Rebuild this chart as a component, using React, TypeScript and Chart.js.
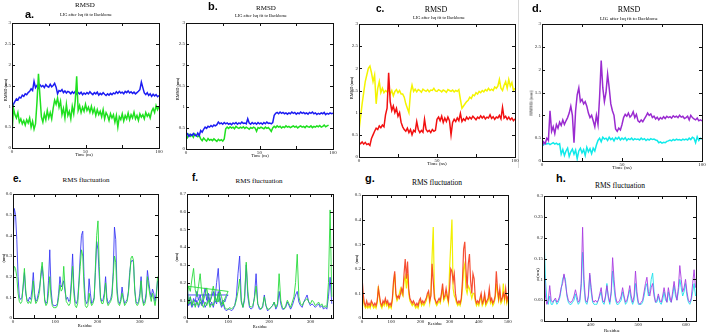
import React, { useEffect, useRef } from "react";
import { Chart, registerables } from "chart.js";

Chart.register(...registerables);

// ---------------- RMSD time series (one sample per ns, 0..100 ns) ----------------
const TIME_STEP_NS = 1;

const rmsdA_blue = [
  0.88, 1.05, 1.12, 1.18, 1.15, 1.22, 1.2, 1.27, 1.24, 1.3,
  1.28, 1.33, 1.36, 1.42, 1.38, 1.6, 1.45, 1.5, 1.44, 1.52,
  1.47, 1.5, 1.45, 1.52, 1.48, 1.46, 1.53, 1.47, 1.5, 1.55,
  1.46, 1.3, 1.38, 1.36, 1.4, 1.33, 1.37, 1.32, 1.36, 1.34,
  1.3, 1.35, 1.31, 1.36, 1.29, 1.33, 1.3, 1.34, 1.28, 1.32,
  1.29, 1.33, 1.3, 1.35, 1.31, 1.28, 1.33, 1.3, 1.34, 1.27,
  1.31, 1.28, 1.33, 1.29, 1.26, 1.3, 1.27, 1.31, 1.28, 1.32,
  1.3, 1.35, 1.31, 1.36, 1.32, 1.34, 1.3, 1.36, 1.33, 1.37,
  1.32, 1.35, 1.31, 1.34, 1.3, 1.33, 1.36, 1.4, 1.58, 1.45,
  1.32, 1.28, 1.33, 1.26, 1.3, 1.24, 1.29, 1.25, 1.28, 1.23,
  1.26,
];
const rmsdA_green = [
  0.35, 0.95, 0.8, 0.72, 0.85, 0.62, 0.7, 0.58, 0.66, 0.55,
  0.68, 0.6, 0.72, 0.5, 0.64, 0.45, 0.58, 1.1, 1.78, 1.25,
  0.75, 0.62, 0.82, 0.68, 0.9, 0.72, 0.85, 0.7, 0.95, 1.15,
  1.05, 1.2, 0.98, 1.12, 0.8, 0.95, 0.72, 1.05, 0.78, 0.88,
  0.7, 1.0, 0.82, 1.12, 1.72, 0.9, 1.02, 0.85, 0.98, 0.88,
  1.05, 0.9, 0.98, 0.86, 1.0, 0.84, 0.95, 0.78, 0.92, 0.8,
  0.88, 0.75, 0.92, 0.7, 0.85, 0.78, 0.66, 0.82, 0.72, 0.8,
  0.62, 0.78, 0.5, 0.75, 0.68, 0.82, 0.65, 0.78, 0.7, 0.84,
  0.68, 0.8, 0.72, 0.86, 0.7, 0.78, 0.66, 0.82, 0.74, 0.8,
  0.7, 0.85, 0.76, 0.82, 0.72, 0.88, 0.95, 0.85, 1.02, 0.92,
  1.0,
];

const rmsdB_blue = [
  0.32, 0.36, 0.3, 0.35, 0.32, 0.37, 0.33, 0.31, 0.38, 0.32,
  0.44, 0.4, 0.47, 0.52, 0.49, 0.54, 0.52, 0.56, 0.53, 0.57,
  0.55, 0.58, 0.64, 0.6, 0.62, 0.59, 0.63, 0.6, 0.62, 0.59,
  0.61, 0.58, 0.62, 0.6, 0.63, 0.59, 0.62, 0.6, 0.64, 0.61,
  0.62, 0.6, 0.72, 0.62, 0.59, 0.63, 0.6, 0.62, 0.59, 0.63,
  0.6, 0.62, 0.59, 0.63, 0.6, 0.64, 0.61, 0.62, 0.6, 0.63,
  0.8, 0.85, 0.87, 0.84, 0.88, 0.85, 0.87, 0.84, 0.86, 0.83,
  0.86, 0.84, 0.88, 0.85, 0.87, 0.83, 0.86, 0.84, 0.88, 0.85,
  0.87, 0.84, 0.86, 0.83, 0.87, 0.85, 0.88, 0.84, 0.86, 0.82,
  0.85, 0.83, 0.86, 0.84, 0.87, 0.82, 0.85, 0.83, 0.86, 0.84,
  0.85,
];
const rmsdB_green = [
  0.32, 0.27, 0.35, 0.3, 0.34, 0.28, 0.36, 0.32, 0.29, 0.33,
  0.24, 0.2, 0.26, 0.22, 0.19, 0.25, 0.21, 0.23, 0.2, 0.24,
  0.21, 0.18, 0.23, 0.2, 0.22, 0.19, 0.24, 0.48, 0.52, 0.49,
  0.53, 0.5, 0.52, 0.48, 0.54, 0.51, 0.49, 0.52, 0.5, 0.53,
  0.49, 0.52, 0.5, 0.47, 0.51, 0.49, 0.52, 0.5, 0.42, 0.51,
  0.49, 0.52, 0.5, 0.48, 0.52, 0.49, 0.51, 0.47, 0.42, 0.5,
  0.54, 0.51, 0.55, 0.52, 0.54, 0.5, 0.53, 0.51, 0.55, 0.52,
  0.54, 0.51, 0.53, 0.55, 0.52, 0.54, 0.5, 0.53, 0.55, 0.52,
  0.54, 0.51, 0.55, 0.53, 0.52, 0.55, 0.51, 0.54, 0.52, 0.55,
  0.53, 0.56, 0.52, 0.54, 0.57, 0.53, 0.55, 0.57,
];

const rmsdC_red = [
  0.32, 0.3, 0.34, 0.29, 0.33, 0.28, 0.3, 0.26, 0.42, 0.5,
  0.58, 0.65, 0.62, 0.7, 0.66, 0.72, 0.68, 0.95, 1.1, 1.9,
  1.25, 1.05, 1.15, 1.0, 1.1, 0.92, 1.0, 0.78, 0.68, 0.62,
  0.58, 0.65, 0.55, 0.62, 0.5, 0.6, 0.57, 0.8, 0.62, 0.55,
  0.6, 0.56, 0.85, 0.62, 0.57, 0.6, 0.55, 0.62, 0.58, 0.6,
  0.85, 0.9, 0.82, 0.92, 0.78, 0.88, 0.8, 0.9, 0.82, 0.5,
  0.78, 0.85, 0.8, 0.88, 0.82, 0.98, 0.8, 0.86, 0.82, 0.9,
  0.85, 0.9, 0.86, 0.92, 0.88, 0.84, 0.9, 0.87, 0.93, 0.88,
  0.92, 0.86, 0.9, 0.88, 0.95, 0.87, 0.91, 0.85, 0.9, 0.88,
  0.94, 0.86, 1.12, 0.88, 0.92, 0.85, 0.9, 0.84, 0.88, 0.82,
  0.86,
];
const rmsdC_yellow = [
  0.6, 0.9, 1.2, 1.45, 1.7, 1.85, 2.0, 2.05, 1.9, 1.7,
  1.85, 1.2, 1.55, 1.7, 1.45, 1.55, 1.45, 1.5, 1.47, 1.52,
  1.42, 1.5, 1.38, 1.48, 1.52, 1.45, 1.5, 1.42, 1.42, 1.35,
  1.2, 1.1, 1.0, 1.45, 1.62, 1.48, 1.53, 1.47, 1.52, 1.5,
  1.46, 1.53, 1.5, 1.48, 1.52, 1.47, 1.51, 1.5, 1.55, 1.49,
  1.48, 1.52, 1.5, 1.47, 1.51, 1.49, 1.46, 1.52, 1.5, 1.48,
  1.51, 1.47, 1.5, 1.48, 1.52, 1.3, 1.1, 1.15, 1.2, 1.25,
  1.28, 1.35, 1.32, 1.4, 1.38, 1.45, 1.42, 1.48, 1.45, 1.5,
  1.47, 1.52, 1.49, 1.55, 1.5, 1.53, 1.5, 1.58, 1.55, 1.6,
  1.75, 1.55, 1.5, 1.62, 1.7, 1.55, 1.75, 1.6, 1.68, 1.5,
  1.55,
];

const rmsdD_purple = [
  0.3, 0.42, 0.38, 0.5, 0.45, 1.1, 0.65, 0.75, 0.6, 0.8,
  0.72, 0.85, 0.78, 0.9, 0.8, 0.88, 0.95, 1.05, 1.2, 1.0,
  0.4, 1.1, 1.45, 1.6, 1.3, 1.35, 1.25, 1.3, 1.2, 1.05,
  0.95, 1.0, 0.88, 0.75, 1.0, 0.8, 1.4, 2.2, 1.6, 1.3,
  1.5, 1.9, 1.6, 1.25, 1.1, 1.0, 0.7, 0.65, 0.72, 0.68,
  0.8, 0.95, 1.02, 0.98, 1.05, 0.96, 1.0, 1.08, 0.95, 1.02,
  0.88, 0.85, 0.9, 0.86, 0.92, 0.98, 1.05, 1.0, 1.03, 0.95,
  0.98, 0.92, 0.96, 0.9, 0.95, 0.92, 0.97, 0.93, 0.98, 0.95,
  0.97, 0.94, 0.99, 0.96, 0.98, 0.95, 1.0, 0.96, 0.98, 0.93,
  0.95, 0.98, 0.9, 1.0, 0.95, 0.92, 0.9, 0.94, 0.88, 0.9,
  0.88,
];
const rmsdD_cyan = [
  0.38, 0.35, 0.4, 0.37, 0.39, 0.36, 0.38, 0.4, 0.37, 0.39, 0.36, 0.38,
  0.15, 0.25, 0.12, 0.22, 0.28, 0.1, 0.2, 0.26, 0.15, 0.24, 0.05,
  0.22, 0.28, 0.18, 0.25, 0.12, 0.3, 0.2, 0.27, 0.16, 0.28, 0.22,
  0.35, 0.45, 0.5, 0.42, 0.52, 0.48,
  0.5, 0.45, 0.52, 0.47, 0.5, 0.44, 0.51, 0.48, 0.52, 0.46,
  0.5, 0.47, 0.51, 0.45, 0.49, 0.47, 0.5, 0.46, 0.49, 0.47,
  0.48, 0.46, 0.5, 0.47, 0.49, 0.45, 0.48, 0.46, 0.49, 0.47,
  0.48, 0.46, 0.45, 0.4, 0.42, 0.39, 0.41, 0.4, 0.43, 0.44,
  0.46, 0.44, 0.47, 0.45, 0.48, 0.46, 0.47, 0.45, 0.48, 0.46,
  0.48, 0.46, 0.5, 0.47, 0.52, 0.5, 0.4, 0.53, 0.45, 0.5, 0.48,
];

// ---------------- RMS fluctuation per residue ----------------
// e: residues 0..342, every 3rd residue
const RMSF_E_START = 0;
const RMSF_E_STEP = 3;
const rmsfE_blue = [
  0.35, 0.53, 0.5, 0.38, 0.2, 0.1, 0.09, 0.1, 0.15, 0.22,
  0.12, 0.09, 0.08, 0.1, 0.09, 0.14, 0.22, 0.12, 0.08, 0.09,
  0.12, 0.15, 0.2, 0.25, 0.18, 0.09, 0.07, 0.08, 0.18, 0.33,
  0.14, 0.07, 0.06, 0.06, 0.06, 0.07, 0.12, 0.2, 0.15, 0.16,
  0.18, 0.13, 0.09, 0.1, 0.08, 0.09, 0.18, 0.31, 0.15, 0.08,
  0.07, 0.09, 0.18, 0.3, 0.4, 0.42, 0.2, 0.09, 0.07, 0.08,
  0.19, 0.12, 0.07, 0.08, 0.1, 0.22, 0.37, 0.33, 0.2, 0.1,
  0.08, 0.09, 0.12, 0.2, 0.1, 0.07, 0.08, 0.09, 0.12, 0.22,
  0.44, 0.38, 0.15, 0.08, 0.07, 0.09, 0.15, 0.1, 0.07, 0.08,
  0.09, 0.13, 0.22, 0.27, 0.28, 0.27, 0.14, 0.08, 0.07, 0.08,
  0.12, 0.2, 0.1, 0.07, 0.08, 0.12, 0.23, 0.18, 0.13, 0.1,
  0.14, 0.12, 0.08, 0.12, 0.18,
];
const rmsfE_green = [
  0.2, 0.25, 0.24, 0.2, 0.12, 0.08, 0.07, 0.08, 0.16, 0.24,
  0.14, 0.08, 0.07, 0.08, 0.07, 0.1, 0.18, 0.1, 0.07, 0.08,
  0.1, 0.13, 0.22, 0.27, 0.2, 0.08, 0.06, 0.07, 0.12, 0.2,
  0.1, 0.06, 0.05, 0.05, 0.05, 0.06, 0.1, 0.16, 0.13, 0.14,
  0.25, 0.15, 0.08, 0.07, 0.06, 0.07, 0.15, 0.25, 0.12, 0.06,
  0.05, 0.07, 0.16, 0.25, 0.33, 0.3, 0.15, 0.06, 0.05, 0.06,
  0.12, 0.08, 0.06, 0.07, 0.09, 0.25, 0.4, 0.47, 0.25, 0.09,
  0.07, 0.07, 0.1, 0.17, 0.08, 0.06, 0.07, 0.08, 0.1, 0.2,
  0.3, 0.27, 0.12, 0.07, 0.06, 0.08, 0.12, 0.09, 0.06, 0.07,
  0.08, 0.12, 0.2, 0.29, 0.3, 0.28, 0.13, 0.07, 0.06, 0.07,
  0.1, 0.18, 0.09, 0.06, 0.07, 0.1, 0.2, 0.15, 0.11, 0.08,
  0.12, 0.09, 0.06, 0.1, 0.2,
];

// f: two chains, both numbered from residue 0, every 4th residue
const RMSF_F_STEP = 4;
const rmsfF_blueChainA = [
  0.2, 0.08, 0.12, 0.07, 0.11, 0.09, 0.15, 0.1, 0.13, 0.08,
  0.12, 0.17, 0.1, 0.14, 0.09, 0.12, 0.15, 0.1, 0.2, 0.28,
  0.12, 0.08, 0.1, 0.09, 0.12, 0.13,
];
const rmsfF_blueChainB = [
  0.13, 0.07, 0.09, 0.06, 0.08, 0.07, 0.1, 0.06, 0.09, 0.07,
  0.1, 0.06, 0.08, 0.12, 0.07, 0.09, 0.06, 0.1, 0.08, 0.15,
  0.09, 0.06, 0.08, 0.05, 0.04, 0.05, 0.05, 0.04, 0.05, 0.07,
  0.12, 0.25, 0.35, 0.1, 0.06, 0.1, 0.3, 0.12, 0.06, 0.05,
  0.06, 0.12, 0.25, 0.08, 0.05, 0.05, 0.06, 0.13, 0.07, 0.04,
  0.05, 0.06, 0.07, 0.09, 0.05, 0.07, 0.15, 0.08, 0.05, 0.05,
  0.06, 0.09, 0.07, 0.05, 0.07, 0.1, 0.13, 0.15, 0.09, 0.07,
  0.06, 0.09, 0.11, 0.13, 0.09, 0.07, 0.08, 0.07, 0.06, 0.07,
  0.08, 0.06, 0.07, 0.05, 0.06, 0.05, 0.12, 0.23, 0.08,
];
const rmsfF_greenChainA = [
  0.12, 0.18, 0.15, 0.22, 0.28, 0.16, 0.12, 0.18, 0.25, 0.14,
  0.1, 0.13, 0.17, 0.11, 0.09, 0.14, 0.18, 0.12, 0.1, 0.09,
  0.15, 0.12, 0.08, 0.11, 0.13, 0.15,
];
const rmsfF_greenChainB = [
  0.18, 0.08, 0.12, 0.07, 0.1, 0.06, 0.09, 0.07, 0.11, 0.08,
  0.06, 0.09, 0.07, 0.1, 0.06, 0.08, 0.07, 0.12, 0.09, 0.14,
  0.1, 0.07, 0.09, 0.06, 0.05, 0.05, 0.06, 0.05, 0.06, 0.07,
  0.1, 0.15, 0.22, 0.09, 0.06, 0.12, 0.315, 0.15, 0.07, 0.06,
  0.07, 0.11, 0.18, 0.08, 0.06, 0.05, 0.07, 0.12, 0.07, 0.05,
  0.05, 0.06, 0.07, 0.09, 0.06, 0.08, 0.25, 0.1, 0.06, 0.05,
  0.07, 0.1, 0.08, 0.06, 0.09, 0.12, 0.2, 0.36, 0.12, 0.08,
  0.07, 0.09, 0.1, 0.11, 0.09, 0.08, 0.1, 0.09, 0.07, 0.08,
  0.09, 0.07, 0.08, 0.06, 0.07, 0.06, 0.2, 0.61, 0.12,
];

// g: residues 0..500, every 4th residue
const RMSF_G_START = 0;
const RMSF_G_STEP = 4;
const rmsfG_red = [
  0.17, 0.1, 0.06, 0.05, 0.07, 0.05, 0.06, 0.05, 0.07, 0.06,
  0.05, 0.06, 0.05, 0.07, 0.12, 0.09, 0.06, 0.05, 0.07, 0.06,
  0.08, 0.06, 0.07, 0.05, 0.06, 0.05, 0.08, 0.15, 0.19, 0.1,
  0.08, 0.09, 0.08, 0.1, 0.12, 0.1, 0.18, 0.24, 0.16, 0.23,
  0.12, 0.08, 0.07, 0.06, 0.07, 0.06, 0.05, 0.06, 0.05, 0.07,
  0.08, 0.06, 0.07, 0.06, 0.07, 0.08, 0.1, 0.11, 0.07, 0.09,
  0.22, 0.15, 0.08, 0.07, 0.06, 0.07, 0.08, 0.07, 0.1, 0.14,
  0.08, 0.09, 0.12, 0.09, 0.07, 0.12, 0.2, 0.19, 0.15, 0.18,
  0.1, 0.07, 0.06, 0.07, 0.06, 0.08, 0.15, 0.28, 0.31, 0.2,
  0.12, 0.22, 0.26, 0.15, 0.1, 0.18, 0.16, 0.08, 0.06, 0.07,
  0.06, 0.08, 0.1, 0.06, 0.07, 0.1, 0.06, 0.07, 0.08, 0.12,
  0.07, 0.08, 0.06, 0.07, 0.09, 0.19, 0.12, 0.08, 0.12, 0.07,
  0.08, 0.1, 0.08, 0.12, 0.07, 0.09,
];
const rmsfG_yellow = [
  0.13, 0.08, 0.05, 0.04, 0.05, 0.04, 0.05, 0.04, 0.06, 0.05,
  0.04, 0.05, 0.04, 0.06, 0.13, 0.08, 0.05, 0.04, 0.06, 0.05,
  0.07, 0.05, 0.06, 0.04, 0.05, 0.04, 0.07, 0.14, 0.18, 0.09,
  0.07, 0.08, 0.1, 0.12, 0.1, 0.09, 0.15, 0.17, 0.12, 0.18,
  0.1, 0.07, 0.06, 0.05, 0.06, 0.05, 0.04, 0.05, 0.04, 0.06,
  0.07, 0.05, 0.06, 0.05, 0.06, 0.07, 0.09, 0.1, 0.06, 0.1,
  0.25, 0.37, 0.1, 0.06, 0.05, 0.06, 0.07, 0.06, 0.09, 0.12,
  0.07, 0.08, 0.1, 0.08, 0.06, 0.2, 0.3, 0.4, 0.12, 0.09,
  0.08, 0.06, 0.05, 0.06, 0.05, 0.07, 0.12, 0.2, 0.22, 0.12,
  0.1, 0.13, 0.12, 0.1, 0.08, 0.1, 0.1, 0.07, 0.05, 0.06,
  0.05, 0.07, 0.09, 0.05, 0.06, 0.09, 0.05, 0.06, 0.07, 0.1,
  0.06, 0.07, 0.05, 0.06, 0.08, 0.14, 0.1, 0.07, 0.1, 0.06,
  0.07, 0.14, 0.07, 0.1, 0.06, 0.08,
];

// h: residues 302..620, every 3rd residue
const RMSF_H_START = 302;
const RMSF_H_STEP = 3;
const rmsfH_purple = [
  0.14, 0.06, 0.04, 0.05, 0.085, 0.05, 0.045, 0.05, 0.055, 0.045,
  0.05, 0.06, 0.08, 0.09, 0.113, 0.09, 0.065, 0.05, 0.045, 0.045,
  0.05, 0.06, 0.075, 0.06, 0.045, 0.05, 0.09, 0.225, 0.1, 0.05,
  0.045, 0.06, 0.115, 0.08, 0.05, 0.045, 0.05, 0.045, 0.05, 0.065,
  0.08, 0.05, 0.045, 0.06, 0.085, 0.06, 0.045, 0.07, 0.152, 0.1,
  0.06, 0.045, 0.045, 0.05, 0.06, 0.08, 0.06, 0.045, 0.05, 0.065,
  0.085, 0.06, 0.045, 0.06, 0.12, 0.07, 0.045, 0.04, 0.045, 0.05,
  0.07, 0.09, 0.105, 0.07, 0.06, 0.08, 0.09, 0.06, 0.045, 0.05,
  0.065, 0.05, 0.045, 0.06, 0.08, 0.06, 0.045, 0.08, 0.06, 0.045,
  0.07, 0.095, 0.07, 0.05, 0.08, 0.133, 0.1, 0.07, 0.08, 0.1,
  0.07, 0.05, 0.045, 0.055, 0.09, 0.123, 0.08,
];
const rmsfH_cyan = [
  0.21, 0.1, 0.05, 0.04, 0.06, 0.04, 0.04, 0.05, 0.05, 0.04,
  0.045, 0.055, 0.075, 0.1, 0.11, 0.1, 0.06, 0.045, 0.04, 0.04,
  0.045, 0.05, 0.065, 0.05, 0.04, 0.045, 0.08, 0.165, 0.08, 0.045,
  0.04, 0.055, 0.11, 0.07, 0.045, 0.04, 0.04, 0.04, 0.05, 0.06,
  0.07, 0.045, 0.04, 0.055, 0.09, 0.055, 0.04, 0.065, 0.12, 0.08,
  0.05, 0.04, 0.04, 0.045, 0.05, 0.07, 0.055, 0.04, 0.045, 0.06,
  0.075, 0.05, 0.04, 0.05, 0.09, 0.06, 0.04, 0.04, 0.04, 0.045,
  0.06, 0.08, 0.09, 0.06, 0.07, 0.1, 0.115, 0.07, 0.045, 0.045,
  0.06, 0.045, 0.04, 0.05, 0.07, 0.05, 0.045, 0.07, 0.05, 0.045,
  0.06, 0.085, 0.06, 0.05, 0.07, 0.1, 0.08, 0.06, 0.07, 0.09,
  0.06, 0.045, 0.04, 0.05, 0.07, 0.09, 0.06,
];

// ---------------- axis ticks ----------------
const timeTicks = [0, 25, 50, 75, 100];
const timeTickLabels = [0, 50, 100];
const rmsdTicks = [0, 0.5, 1, 1.5, 2, 2.5, 3];

const eResTicks = [0, 50, 100, 150, 200, 250, 300];
const eResLabels = [0, 100, 200, 300];
const eRmsfTicks = [0, 0.1, 0.2, 0.3, 0.4, 0.5, 0.6];

const fResTicks = [0, 50, 100, 150, 200, 250, 300, 350];
const fResLabels = [0, 100, 200, 300];
const fRmsfTicks = [0, 0.1, 0.2, 0.3, 0.4, 0.5, 0.6, 0.7];

const gResTicks = [0, 50, 100, 150, 200, 250, 300, 350, 400, 450, 500];
const gResLabels = [0, 100, 200, 300, 400, 500];
const gRmsfTicks = [0, 0.1, 0.2, 0.3, 0.4, 0.5];

const hResTicks = [350, 400, 450, 500, 550, 600];
const hResLabels = [400, 500, 600];
const hRmsfTicks = [0, 0.05, 0.1, 0.15, 0.2, 0.25, 0.3];

// ---------------- helpers ----------------
const SERIF = "'Liberation Serif', 'DejaVu Serif', serif";
const SANS = "'Liberation Sans', Arial, sans-serif";

const YW = 14; // y tick-label column width
const XH = 10; // x tick-label row height
const TP = 4;
const RP = 7;

const seq = (n: number, start: number, step: number) =>
  Array.from({ length: n }, (_, i) => start + i * step);

type Line = { x: number[]; y: number[]; color: string; width: number };
type PanelDef = {
  box: [number, number, number, number];
  xRange: [number, number];
  yRange: [number, number];
  xTicks: number[];
  xLabels: number[];
  yTicks: number[];
  yLabels: number[];
  lines: Line[];
};

const timeLine = (ys: number[], color: string, width = 1.5): Line => ({
  x: seq(ys.length, 0, TIME_STEP_NS),
  y: ys,
  color,
  width,
});
const resLine = (ys: number[], start: number, step: number, color: string, width = 1): Line => ({
  x: seq(ys.length, start, step),
  y: ys,
  color,
  width,
});
const twoChainLine = (a: number[], b: number[], step: number, color: string): Line => ({
  x: [...seq(a.length, 0, step), ...seq(b.length, 0, step)],
  y: [...a, ...b],
  color,
  width: 1,
});

const BLUE = "#1c1cf2";
const GREEN = "#1fe01f";
const RED = "#f21010";
const YELLOW = "#f4f400";
const PURPLE = "#9a2bd0";
const CYAN = "#10eaea";

const panels: PanelDef[] = [
  {
    box: [12, 23, 159, 148],
    xRange: [0, 100], yRange: [0, 3],
    xTicks: timeTicks, xLabels: timeTickLabels, yTicks: rmsdTicks, yLabels: rmsdTicks,
    lines: [timeLine(rmsdA_green, GREEN), timeLine(rmsdA_blue, BLUE)],
  },
  {
    box: [186, 23, 333, 149],
    xRange: [0, 100], yRange: [0, 3],
    xTicks: timeTicks, xLabels: timeTickLabels, yTicks: rmsdTicks, yLabels: rmsdTicks,
    lines: [timeLine(rmsdB_blue, BLUE), timeLine(rmsdB_green, GREEN)],
  },
  {
    box: [359, 24, 515, 157],
    xRange: [0, 100], yRange: [0, 3],
    xTicks: timeTicks, xLabels: timeTickLabels, yTicks: rmsdTicks, yLabels: rmsdTicks,
    lines: [timeLine(rmsdC_red, RED), timeLine(rmsdC_yellow, YELLOW)],
  },
  {
    box: [542, 24, 702, 161],
    xRange: [0, 100], yRange: [0, 3],
    xTicks: timeTicks, xLabels: timeTickLabels, yTicks: rmsdTicks, yLabels: rmsdTicks,
    lines: [timeLine(rmsdD_purple, PURPLE), timeLine(rmsdD_cyan, CYAN)],
  },
  {
    box: [13, 194, 158, 318],
    xRange: [0, 343], yRange: [0, 0.6],
    xTicks: eResTicks, xLabels: eResLabels, yTicks: eRmsfTicks, yLabels: eRmsfTicks,
    lines: [
      resLine(rmsfE_green, RMSF_E_START, RMSF_E_STEP, "rgba(40,220,60,0.9)"),
      resLine(rmsfE_blue, RMSF_E_START, RMSF_E_STEP, "rgba(50,50,245,0.85)"),
    ],
  },
  {
    box: [187, 194, 333, 318],
    xRange: [0, 355], yRange: [0, 0.7],
    xTicks: fResTicks, xLabels: fResLabels, yTicks: fRmsfTicks, yLabels: fRmsfTicks,
    lines: [
      twoChainLine(rmsfF_greenChainA, rmsfF_greenChainB, RMSF_F_STEP, "rgba(40,220,60,0.9)"),
      twoChainLine(rmsfF_blueChainA, rmsfF_blueChainB, RMSF_F_STEP, "rgba(50,50,245,0.85)"),
    ],
  },
  {
    box: [362, 195, 508, 318],
    xRange: [0, 500], yRange: [0, 0.5],
    xTicks: gResTicks, xLabels: gResLabels, yTicks: gRmsfTicks, yLabels: gRmsfTicks,
    lines: [
      resLine(rmsfG_red, RMSF_G_START, RMSF_G_STEP, "rgba(245,60,30,0.9)", 1.2),
      resLine(rmsfG_yellow, RMSF_G_START, RMSF_G_STEP, "#f2f000", 1.2),
    ],
  },
  {
    box: [544, 196, 696, 321],
    xRange: [302, 621], yRange: [0, 0.3],
    xTicks: hResTicks, xLabels: hResLabels, yTicks: hRmsfTicks, yLabels: hRmsfTicks,
    lines: [
      resLine(rmsfH_purple, RMSF_H_START, RMSF_H_STEP, "rgba(170,60,225,0.9)"),
      resLine(rmsfH_cyan, RMSF_H_START, RMSF_H_STEP, "rgba(30,225,235,0.9)"),
    ],
  },
];

// frame around the plot with inward tick marks on all four sides
const frameTicks = {
  id: "frameTicks",
  afterDatasetsDraw(chart: any) {
    const { ctx, chartArea: ca, scales } = chart;
    const xs = scales.x;
    const ys = scales.y;
    const len = 3;
    ctx.save();
    ctx.strokeStyle = "#111";
    ctx.lineWidth = 1;
    ctx.strokeRect(Math.round(ca.left) + 0.5, Math.round(ca.top) + 0.5,
      Math.round(ca.right - ca.left), Math.round(ca.bottom - ca.top));
    ctx.beginPath();
    for (const t of xs.ticks) {
      const px = Math.round(xs.getPixelForValue(t.value)) + 0.5;
      ctx.moveTo(px, ca.bottom);
      ctx.lineTo(px, ca.bottom - len);
      ctx.moveTo(px, ca.top);
      ctx.lineTo(px, ca.top + len);
    }
    for (const t of ys.ticks) {
      const py = Math.round(ys.getPixelForValue(t.value)) + 0.5;
      ctx.moveTo(ca.left, py);
      ctx.lineTo(ca.left + len, py);
      ctx.moveTo(ca.right, py);
      ctx.lineTo(ca.right - len, py);
    }
    ctx.stroke();
    ctx.restore();
  },
};

function PlotPanel({ def }: { def: PanelDef }) {
  const ref = useRef<HTMLCanvasElement>(null);
  const [l, t, r, b] = def.box;
  const width = r - l + YW + RP;
  const height = b - t + TP + XH;

  useEffect(() => {
    const tickFont = { family: SERIF, size: 5 };
    const chart = new Chart(ref.current as HTMLCanvasElement, {
      type: "line",
      data: {
        datasets: def.lines.map((ln) => ({
          data: ln.x.map((xv, i) => ({ x: xv, y: ln.y[i] })),
          borderColor: ln.color,
          borderWidth: ln.width,
          pointRadius: 0,
          tension: 0,
          fill: false,
        })),
      },
      options: {
        animation: false,
        responsive: false,
        devicePixelRatio: 1,
        events: [],
        layout: { padding: { top: TP, right: RP, left: 0, bottom: 0 }, autoPadding: false },
        plugins: { legend: { display: false }, tooltip: { enabled: false }, title: { display: false } },
        scales: {
          x: {
            type: "linear",
            min: def.xRange[0],
            max: def.xRange[1],
            afterBuildTicks: (s: any) => { s.ticks = def.xTicks.map((v) => ({ value: v })); },
            afterFit: (s: any) => { s.height = XH; },
            grid: { display: false, drawTicks: false },
            border: { display: false },
            ticks: {
              autoSkip: false, maxRotation: 0, padding: 1, color: "#222", font: tickFont,
              callback: (v: any) => (def.xLabels.includes(Number(v)) ? String(v) : ""),
            },
          },
          y: {
            type: "linear",
            min: def.yRange[0],
            max: def.yRange[1],
            afterBuildTicks: (s: any) => { s.ticks = def.yTicks.map((v) => ({ value: v })); },
            afterFit: (s: any) => { s.width = YW; },
            grid: { display: false, drawTicks: false },
            border: { display: false },
            ticks: {
              autoSkip: false, padding: 1, color: "#222", font: tickFont,
              callback: (v: any) => (def.yLabels.includes(Number(v)) ? String(v) : ""),
            },
          },
        },
      } as any,
      plugins: [frameTicks],
    });
    return () => chart.destroy();
  }, [def]);

  return (
    <canvas
      ref={ref}
      width={width}
      height={height}
      style={{ position: "absolute", left: l - YW, top: t - TP, width, height }}
    />
  );
}

type TextItem = {
  text: string;
  x: number;
  y: number; // baseline, or centre for rotated text
  size: number;
  family?: string;
  bold?: boolean;
  align?: "left" | "center";
  rotate?: boolean;
};

const SUB = "LIG after lsq fit to Backbone";

const texts: TextItem[] = [
  // panel letters
  { text: "a.", x: 25, y: 18, size: 11, family: SANS, bold: true },
  { text: "b.", x: 208, y: 10, size: 11, family: SANS, bold: true },
  { text: "c.", x: 376, y: 12, size: 10, family: SANS, bold: true },
  { text: "d.", x: 532, y: 12, size: 11, family: SANS, bold: true },
  { text: "e.", x: 13, y: 182, size: 10, family: SANS, bold: true },
  { text: "f.", x: 192, y: 181, size: 10, family: SANS, bold: true },
  { text: "g.", x: 365, y: 182, size: 11, family: SANS, bold: true },
  { text: "h.", x: 556, y: 182, size: 11, family: SANS, bold: true },
  // titles
  { text: "RMSD", x: 85, y: 7.5, size: 7, align: "center" },
  { text: SUB, x: 86, y: 17, size: 4.5, align: "center" },
  { text: "RMSD", x: 266, y: 10.7, size: 7, align: "center" },
  { text: SUB, x: 261, y: 18, size: 4.5, align: "center" },
  { text: "RMSD", x: 436, y: 12.7, size: 8, align: "center" },
  { text: SUB, x: 439, y: 19.5, size: 4.5, align: "center" },
  { text: "RMSD", x: 629, y: 12.7, size: 8, align: "center" },
  { text: SUB, x: 629, y: 20, size: 5, align: "center" },
  { text: "RMS fluctuation", x: 86, y: 183, size: 7, align: "center" },
  { text: "RMS fluctuation", x: 259, y: 184, size: 7, align: "center" },
  { text: "RMS fluctuation", x: 437, y: 185, size: 7.5, align: "center" },
  { text: "RMS fluctuation", x: 620, y: 188, size: 7.5, align: "center" },
  // x-axis titles
  { text: "Time (ns)", x: 84, y: 157, size: 4.5, align: "center" },
  { text: "Time (ns)", x: 260, y: 158, size: 4.5, align: "center" },
  { text: "Time (ns)", x: 437, y: 165.5, size: 5, align: "center" },
  { text: "Time (ns)", x: 622, y: 169, size: 5, align: "center" },
  { text: "Residue", x: 85, y: 328, size: 4.5, align: "center" },
  { text: "Residue", x: 260, y: 329, size: 4.5, align: "center" },
  { text: "Residue", x: 435, y: 326, size: 4.5, align: "center" },
  { text: "Residue", x: 612, y: 332, size: 5, align: "center" },
  // y-axis titles
  { text: "RMSD (nm)", x: 5.5, y: 90, size: 4.5, rotate: true },
  { text: "RMSD (nm)", x: 178, y: 89, size: 4.5, rotate: true },
  { text: "RMSD (nm)", x: 352, y: 88, size: 4.5, rotate: true },
  { text: "RMSD (nm)", x: 531, y: 103, size: 5, rotate: true },
  { text: "(nm)", x: 4, y: 258, size: 4.5, rotate: true },
  { text: "(nm)", x: 177, y: 257, size: 4.5, rotate: true },
  { text: "(nm)", x: 357, y: 259, size: 4.5, rotate: true },
  { text: "(nm)", x: 537, y: 273, size: 5, rotate: true },
];

function TextLabel({ item }: { item: TextItem }) {
  const family = item.family ?? SERIF;
  const base: React.CSSProperties = {
    position: "absolute",
    fontFamily: family,
    fontSize: item.size,
    fontWeight: item.bold ? 700 : 400,
    lineHeight: `${item.size}px`,
    whiteSpace: "nowrap",
    color: "#000",
    opacity: 0.99,
  };
  if (item.rotate) {
    return (
      <div style={{ ...base, left: item.x, top: item.y, transform: "translate(-50%, -50%) rotate(-90deg)" }}>
        {item.text}
      </div>
    );
  }
  const top = item.y - item.size * 0.84;
  return (
    <div
      style={{
        ...base,
        left: item.x,
        top,
        transform: item.align === "center" ? "translateX(-50%)" : undefined,
      }}
    >
      {item.text}
    </div>
  );
}

export default function App() {
  return (
    <div
      style={{
        position: "absolute",
        left: 0,
        top: 0,
        width: 707,
        height: 333,
        background: "#fff",
        overflow: "hidden",
      }}
    >
      <div style={{ position: "absolute", left: 518, top: 0, width: 1, height: 168, background: "#d8d8d8" }} />
      {panels.map((p, i) => (
        <PlotPanel key={i} def={p} />
      ))}
      {texts.map((t, i) => (
        <TextLabel key={i} item={t} />
      ))}
    </div>
  );
}
